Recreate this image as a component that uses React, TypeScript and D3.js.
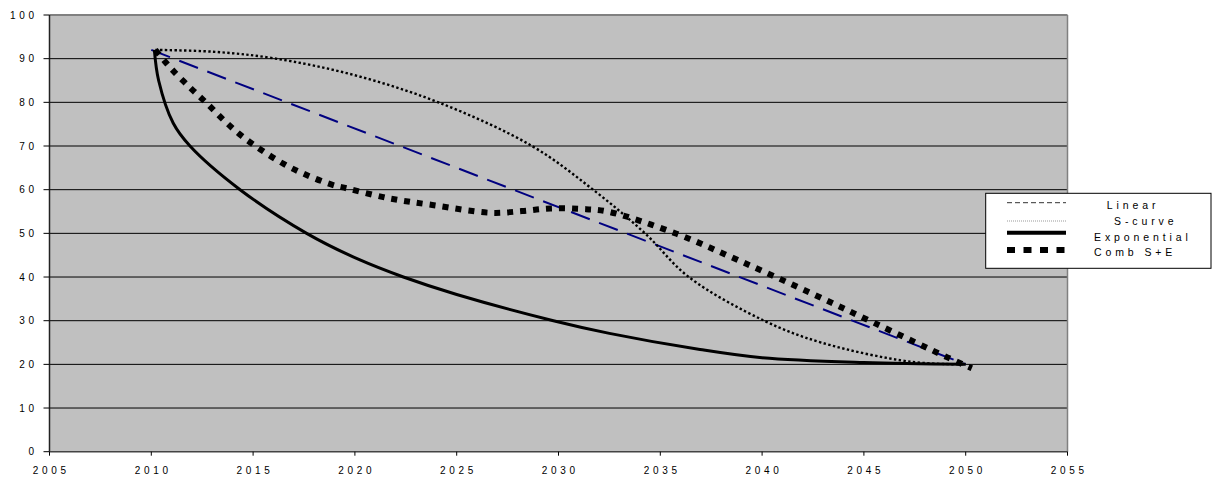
import React from "react";
import * as d3 from "d3";

// Series read as (year, value) pairs
const linearYears = [2010, 2050];
const linearValues = [92, 20];

const sCurveYears = [2010.2, 2013, 2016, 2020, 2024.1, 2028.7, 2031.7, 2034.25, 2036.4, 2040.1, 2042.9, 2047.3, 2050];
const sCurveValues = [92, 91.6, 90.1, 86.2, 80, 70, 60, 50, 40, 30, 25, 20.6, 20];

const expYears = [2010.15, 2010.36, 2011.08, 2011.9, 2014.36, 2017.63, 2020.25, 2022.38, 2025, 2029.75, 2032.5, 2036.95, 2040, 2045, 2050];
const expValues = [92, 85, 75.2, 70, 60, 50, 43.9, 40, 36, 30, 27.1, 23.4, 21.5, 20.4, 20];

const combYears = [2010.2, 2010.68, 2011.08, 2011.9, 2012.72, 2013.54, 2014.44, 2015.4, 2016.5, 2017.6, 2018.9, 2019.6, 2021.7, 2023.8, 2026.7, 2028.2, 2029.6, 2031.1, 2032.4, 2035.8, 2038.9, 2042.5, 2045.5, 2049.1, 2050.3];
const combValues = [92, 89.3, 87.2, 83.4, 79.8, 76, 72.3, 69.1, 65.9, 63.4, 61.1, 60.3, 58, 56.5, 54.7, 55.1, 55.7, 55.6, 55, 49.9, 43.7, 36.1, 29.5, 21.6, 19.1];

const seriesNames = ["Linear", "S-curve", "Exponential", "Comb S+E"];

const xTicks = [2005, 2010, 2015, 2020, 2025, 2030, 2035, 2040, 2045, 2050, 2055];
const yTicks = [0, 10, 20, 30, 40, 50, 60, 70, 80, 90, 100];

const W = 1217;
const H = 478;
const FONT = "'Liberation Sans', Arial, sans-serif";

const x = d3.scaleLinear().domain([2005, 2055]).range([49.5, 1067.5]);
const y = d3.scaleLinear().domain([0, 100]).range([451.7, 15]);

type Pt = [number, number];
const zipPts = (xs: number[], vs: number[]): Pt[] => xs.map((xv, i) => [xv, vs[i]]);

const line = d3
  .line<Pt>()
  .x((d) => x(d[0]))
  .y((d) => y(d[1]))
  .curve(d3.curveCatmullRom.alpha(0.5));

const styles = [
  { stroke: "#000080", width: 2, dash: "20,10" },
  { stroke: "#000", width: 2.4, dash: "2.4,2.4" },
  { stroke: "#000", width: 3, dash: undefined as string | undefined },
  { stroke: "#000", width: 6, dash: "6,7" },
];

const legendStyles = [
  { stroke: "#333", width: 1, dash: "5,3" },
  { stroke: "#999", width: 1, dash: "1,1" },
  { stroke: "#000", width: 4, dash: undefined as string | undefined },
  { stroke: "#000", width: 6, dash: "8,8.5" },
];
const legendTextX = [1106.7, 1114, 1094, 1094];

export default function App() {
  const series: Pt[][] = [
    zipPts(linearYears, linearValues),
    zipPts(sCurveYears, sCurveValues),
    zipPts(expYears, expValues),
    zipPts(combYears, combValues),
  ];
  const [x0, x1] = x.range();
  const [y0, y1] = y.range();
  const ls = 3.7;

  return (
    <svg
      width={W}
      height={H}
      style={{ position: "absolute", left: 0, top: 0, background: "#fff" }}
      fontFamily={FONT}
    >
      {/* plot area */}
      <rect x={x0} y={y1} width={x1 - x0} height={y0 - y1} fill="#c0c0c0" />
      {yTicks.slice(1, -1).map((t) => (
        <line key={t} x1={x0} x2={x1} y1={y(t)} y2={y(t)} stroke="#000" strokeWidth={1} />
      ))}
      <line x1={x0} x2={x1} y1={y1} y2={y1} stroke="#808080" strokeWidth={2} />
      <line x1={x1} x2={x1} y1={y1} y2={y0} stroke="#808080" strokeWidth={1.5} />

      {/* series */}
      {series.map((pts, i) => (
        <path
          key={seriesNames[i]}
          d={line(pts) ?? ""}
          fill="none"
          stroke={styles[i].stroke}
          strokeWidth={styles[i].width}
          strokeDasharray={styles[i].dash}
        />
      ))}

      {/* axes */}
      <line x1={x0} x2={x0} y1={y1} y2={y0} stroke="#222" strokeWidth={1.5} />
      <line x1={x0} x2={x1} y1={y0} y2={y0} stroke="#444" strokeWidth={1.5} />
      {yTicks.map((t) => (
        <g key={t}>
          <line x1={x0 - 6} x2={x0} y1={y(t)} y2={y(t)} stroke="#000" />
          <text
            x={34 + ls}
            y={y(t)}
            dy="0.36em"
            textAnchor="end"
            fontSize={10}
            letterSpacing={ls}
            fill="#000"
          >
            {t}
          </text>
        </g>
      ))}
      {xTicks.map((t) => (
        <g key={t}>
          <line x1={x(t)} x2={x(t)} y1={y0} y2={y0 + 4} stroke="#000" />
          <text
            x={x(t) + ls / 2}
            y={474}
            textAnchor="middle"
            fontSize={10}
            letterSpacing={ls}
            fill="#000"
          >
            {t}
          </text>
        </g>
      ))}

      {/* legend */}
      <rect x={985.7} y={193.3} width={225.3} height={75} fill="#fff" stroke="#000" strokeWidth={1} />
      {seriesNames.map((name, i) => {
        const base = 209 + i * 15.8;
        const sy = [202.7, 221, 232.8, 250][i];
        return (
          <g key={name}>
            <line
              x1={1007}
              x2={1066}
              y1={sy}
              y2={sy}
              stroke={legendStyles[i].stroke}
              strokeWidth={legendStyles[i].width}
              strokeDasharray={legendStyles[i].dash}
            />
            <text x={legendTextX[i]} y={base} fontSize={10.5} letterSpacing={3.9} fill="#000">
              {name}
            </text>
          </g>
        );
      })}
    </svg>
  );
}
